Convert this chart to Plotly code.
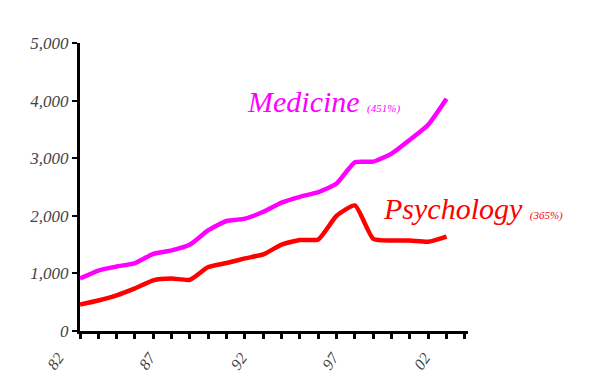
import plotly.graph_objects as go

years = list(range(1982, 2003))
medicine = [910, 1050, 1120, 1180, 1340, 1400, 1500, 1750, 1910, 1950, 2070,
            2230, 2330, 2410, 2560, 2930, 2940, 3080, 3320, 3580, 4030]
psychology = [460, 530, 620, 740, 880, 910, 890, 1110, 1180, 1260, 1330,
              1500, 1580, 1590, 2000, 2180, 1600, 1570, 1570, 1550, 1640]
tick_years = list(range(1982, 2004))
tick_text = [("%02d" % (y % 100)) if (y - 1982) % 5 == 0 else "" for y in tick_years]
y_ticks = [0, 1000, 2000, 3000, 4000, 5000]

fig = go.Figure()
fig.add_trace(go.Scatter(x=years, y=medicine, mode="lines",
                         line=dict(color="#FF00FF", width=4.5, shape="spline", smoothing=0.5),
                         showlegend=False, cliponaxis=False))
fig.add_trace(go.Scatter(x=years, y=psychology, mode="lines",
                         line=dict(color="#FF0000", width=4.5, shape="spline", smoothing=0.5),
                         showlegend=False, cliponaxis=False))

serif = "Liberation Serif, Times New Roman, serif"
fig.add_annotation(x=1991.0, y=3990, xref="x", yref="y", xanchor="left", yanchor="middle",
                   text="<i>Medicine <span style='font-size:11px'>(451%)</span></i>",
                   showarrow=False, font=dict(family=serif, size=30, color="#FF00FF"))
fig.add_annotation(x=1998.4, y=2135, xref="x", yref="y", xanchor="left", yanchor="middle",
                   text="<i>Psychology <span style='font-size:11px'>(365%)</span></i>",
                   showarrow=False, font=dict(family=serif, size=30, color="#FF0000"))

fig.update_layout(
    width=586, height=370,
    margin=dict(l=72, r=126, t=35, b=47, autoexpand=False),
    paper_bgcolor="white", plot_bgcolor="white",
    xaxis=dict(range=[1982, 2003.17], tickvals=tick_years, ticktext=tick_text,
               tickangle=-55, ticks="outside", ticklen=5, tickwidth=3, tickcolor="black",
               showline=True, linecolor="black", linewidth=3, showgrid=False, zeroline=False,
               automargin=False, ticklabelshift=-22, ticklabelstandoff=3,
               tickfont=dict(family=serif, size=16, color="#444")),
    yaxis=dict(range=[0, 5000], tickvals=y_ticks, tickformat=",",
               ticks="outside", ticklen=5, tickwidth=2, tickcolor="black",
               showline=True, linecolor="black", linewidth=3, showgrid=False, zeroline=False,
               automargin=False,
               tickfont=dict(family=serif, size=17, color="#444")),
)
fig.update_yaxes(tickfont_style="italic")
fig.update_xaxes(tickfont_style="italic")

fig.write_html("out.html")
